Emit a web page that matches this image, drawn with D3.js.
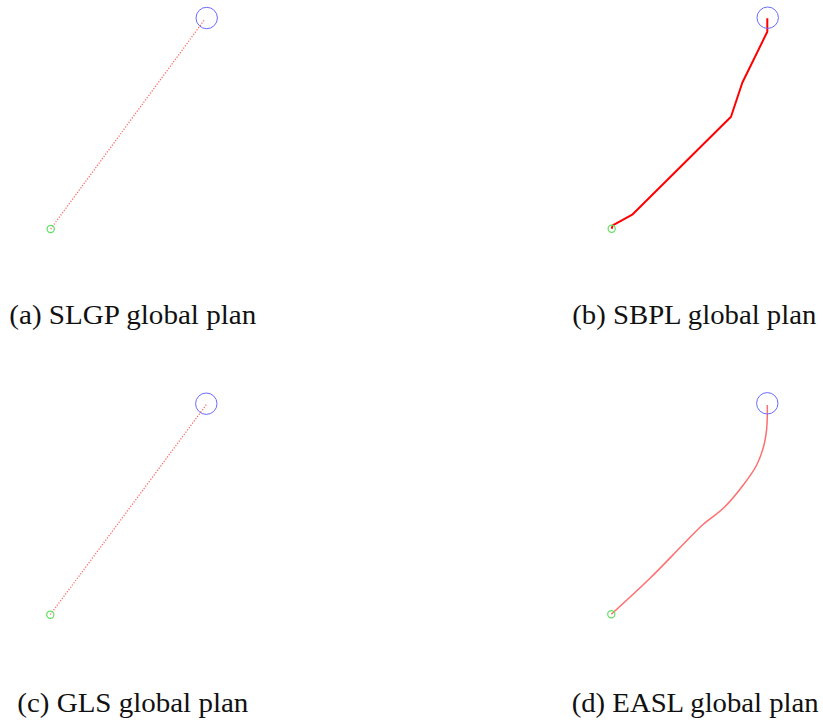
<!DOCTYPE html>
<html>
<head>
<meta charset="utf-8">
<script src="https://cdn.jsdelivr.net/npm/d3@7"></script>
<style>
  html, body { margin: 0; padding: 0; background: #fff; }
  svg { display: block; }
</style>
</head>
<body>
<svg id="chart" width="823" height="721"></svg>
<script>
// panel captions
var captions = ['(a) SLGP global plan', '(b) SBPL global plan', '(c) GLS global plan', '(d) EASL global plan'];

// start / goal in map units (start is origin)
var startPoint = [0, 0];
var goalPoint = [156, 211];

// planned paths, map units
var slgpPath = [[0, 0], [153.6, 209]];
var sbplPath = [[0, 0], [1, 3.4], [21, 14.4], [119.3, 112], [130.6, 146], [155.6, 197], [155.6, 210.4]];
var glsPath = [[0, 0], [156, 210]];
var easlPath = [[0, 0], [38.7, 36], [72, 70], [92, 90], [112, 106], [132, 129.3], [145.4, 149.3], [152.7, 169.3], [155.4, 186], [156, 197.6], [156, 209.3]];

var paths = [slgpPath, sbplPath, glsPath, easlPath];

(function() {

	var svg = d3.select('#chart');

	// where each panel's start point sits, and caption placement
	var panels = [
		{ ox: 50.7, oy: 229, capX: 9.3, capY: 324.3, capW: 247, style: 'dotted' },
		{ ox: 611.7, oy: 228.7, capX: 572.3, capY: 324.3, capW: 244, style: 'solid' },
		{ ox: 50.3, oy: 614.7, capX: 17.3, capY: 711.5, capW: 231, style: 'dotted' },
		{ ox: 611.3, oy: 614.3, capX: 571.7, capY: 711.5, capW: 247, style: 'smooth' }
	];

	var x = d3.scaleLinear().domain([0, 160]).range([0, 160]),
		y = d3.scaleLinear().domain([0, 220]).range([0, -220]);

	panels.forEach(function(p, i) {

		var g = svg.append('g')
			.attr('class', 'panel')
			.attr('transform', 'translate(' + p.ox + ',' + p.oy + ')');

		var line = d3.line()
			.x(function(d) { return x(d[0]); })
			.y(function(d) { return y(d[1]); });

		if (p.style == 'smooth') {
			line.curve(d3.curveCatmullRom);
		}

		var path = g.append('path')
			.datum(paths[i])
			.attr('fill', 'none')
			.attr('d', line);

		if (p.style == 'dotted') {
			path.attr('stroke', '#ff6666')
				.attr('stroke-width', 1.3)
				.attr('stroke-dasharray', '1.2,1.6');
		} else if (p.style == 'solid') {
			path.attr('stroke', '#ff0000')
				.attr('stroke-width', 2)
				.attr('stroke-linejoin', 'round');
		} else {
			path.attr('stroke', '#ff6f6f')
				.attr('stroke-width', 1.5);
		}

		// goal
		g.append('circle')
			.attr('cx', x(goalPoint[0]))
			.attr('cy', y(goalPoint[1]))
			.attr('r', 10.7)
			.attr('fill', 'none')
			.attr('stroke', '#6a6aff')
			.attr('stroke-width', 1);

		// start
		g.append('circle')
			.attr('cx', x(startPoint[0]))
			.attr('cy', y(startPoint[1]))
			.attr('r', 3.6)
			.attr('fill', 'none')
			.attr('stroke', '#5fe05f')
			.attr('stroke-width', 1.2);

		svg.append('text')
			.attr('x', p.capX)
			.attr('y', p.capY)
			.attr('font-family', '"Liberation Serif", "Times New Roman", Times, serif')
			.attr('font-size', 28)
			.attr('fill', '#111')
			.attr('textLength', p.capW)
			.attr('lengthAdjust', 'spacingAndGlyphs')
			.text(captions[i]);
	});

}());
</script>
</body>
</html>
